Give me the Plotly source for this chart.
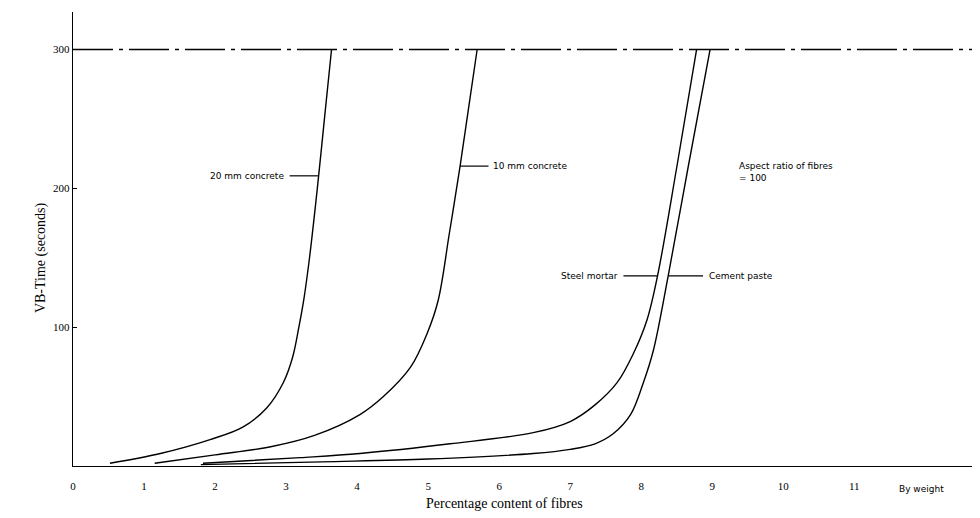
import plotly.graph_objects as go

# ---- data ----
x_ticks = [0, 1, 2, 3, 4, 5, 6, 7, 8, 9, 10, 11]
y_ticks = [100, 200, 300]

x_20mm = [0.52, 1.23, 1.93, 2.39, 2.73, 2.96, 3.09, 3.18, 3.25, 3.33, 3.44, 3.54, 3.64]
y_20mm = [2, 9, 19, 28, 42, 60, 78, 100, 120, 150, 200, 250, 300]

x_10mm = [1.15, 2.0, 2.8, 3.4, 4.04, 4.37, 4.75, 4.99, 5.14, 5.30, 5.45, 5.57, 5.69]
y_10mm = [2, 8, 14, 22, 37, 50, 71, 96, 119, 168, 216, 258, 300]

x_mortar = [1.83, 3.2, 4.04, 5.31, 6.48, 7.0, 7.35, 7.66, 7.89, 8.08, 8.23, 8.5, 8.78]
y_mortar = [2, 6, 9, 16, 24, 32, 44, 60, 81, 105, 137, 215, 300]

x_paste = [1.8, 3.5, 5.0, 6.48, 7.0, 7.35, 7.6, 7.85, 8.03, 8.17, 8.38, 8.66, 8.97]
y_paste = [1, 3, 5, 9, 12, 16, 23, 37, 60, 83, 137, 215, 300]

limit_x = [0, 12.7, 12.7]
limit_y = [300, 300, 62]

X_MAX = 12.77
Y_MAX = 327

fig = go.Figure()

line = dict(color="black", width=1.4, shape="spline", smoothing=1.0)
for xs, ys in [(x_20mm, y_20mm), (x_10mm, y_10mm), (x_mortar, y_mortar), (x_paste, y_paste)]:
    fig.add_trace(go.Scatter(x=xs, y=ys, mode="lines", line=line, hoverinfo="skip", showlegend=False))

fig.add_trace(go.Scatter(x=limit_x, y=limit_y, mode="lines",
                         line=dict(color="black", width=1.4, dash="40px,6px,4px,6px"),
                         hoverinfo="skip", showlegend=False))

ann_font = dict(family="DejaVu Sans", size=9, color="black")
title_font = dict(family="Liberation Serif", size=14, color="black")

def leader(x0, x1, y):
    fig.add_shape(type="line", x0=x0, x1=x1, y0=y, y1=y, xref="x", yref="y",
                  line=dict(color="black", width=1.2))

# 20 mm concrete
leader(3.05, 3.45, 209)
fig.add_annotation(x=3.0, y=209, text="20 mm concrete", showarrow=False,
                   xanchor="right", font=ann_font)
# 10 mm concrete
leader(5.45, 5.85, 216)
fig.add_annotation(x=5.88, y=216, text="10 mm concrete", showarrow=False,
                   xanchor="left", font=ann_font)
# Steel mortar
leader(7.75, 8.23, 137)
fig.add_annotation(x=7.7, y=137, text="Steel mortar", showarrow=False,
                   xanchor="right", font=ann_font)
# Cement paste
leader(8.38, 8.87, 137)
fig.add_annotation(x=8.92, y=137, text="Cement paste", showarrow=False,
                   xanchor="left", font=ann_font)
# Aspect ratio
fig.add_annotation(x=9.35, y=212, text="Aspect ratio of fibres<br>= 100", showarrow=False,
                   xanchor="left", yanchor="middle", align="left", font=ann_font)
# By weight
fig.add_annotation(x=11.6, y=0, yshift=-23, text="By weight", showarrow=False,
                   xanchor="left", font=ann_font)
# axis titles
fig.add_annotation(x=6.08, y=0, yshift=-37, text="Percentage content of fibres",
                   showarrow=False, font=title_font)
fig.add_annotation(xref="paper", x=-0.047, y=150, text="VB-Time (seconds)",
                   textangle=-90, showarrow=False, font=title_font)

fig.update_xaxes(range=[0, X_MAX], tickvals=x_ticks, ticktext=[str(v) for v in x_ticks],
                 showgrid=False, zeroline=False, showline=True, linecolor="black", linewidth=1.4,
                 ticks="", ticklabelstandoff=10,
                 tickfont=dict(family="Liberation Serif", size=11, color="black"))
fig.update_yaxes(range=[0, Y_MAX], tickvals=y_ticks, ticktext=[str(v) for v in y_ticks],
                 showgrid=False, zeroline=False, showline=True, linecolor="black", linewidth=1.4,
                 ticks="inside", ticklen=4, tickcolor="black",
                 tickfont=dict(family="Liberation Serif", size=11, color="black"))

fig.update_layout(width=980, height=518, margin=dict(l=65, r=8, t=4, b=60, autoexpand=False),
                  plot_bgcolor="white", paper_bgcolor="white")

fig.write_html("out.html")
